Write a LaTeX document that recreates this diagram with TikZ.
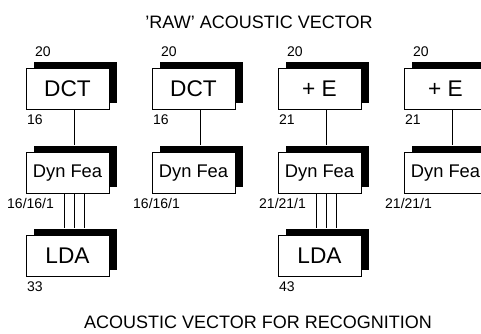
\documentclass[tikz,border=0pt]{standalone}
\usepackage{fontspec}
\setmainfont{Liberation Sans}
\usetikzlibrary{positioning, shadows}

\begin{document}
\begin{tikzpicture}[
  x=0.75pt, y=-0.75pt,
  node distance=31.5pt and 31.5pt,
  stage/.style={draw=black, fill=white, line width=0.75pt,
                minimum width=62.25pt, minimum height=30.75pt, inner sep=0pt,
                drop shadow={shadow xshift=6pt, shadow yshift=5.25pt,
                             fill=black, opacity=1}},
  big/.style={font=\fontsize{17}{19}\selectfont},
  mid/.style={font=\fontsize{13.75}{16}\selectfont},
  dimlbl/.style={font=\fontsize{10.5}{12}\selectfont, inner sep=1pt},
  headline/.style={font=\fontsize{13.5}{16}\selectfont},
  link/.style={line width=0.75pt}
]
\useasboundingbox (0,0) rectangle (481,333);

% Titles
\node[headline] (raw) at (259,22) {'RAW' ACOUSTIC VECTOR};
\node[headline] (rec) at (258,322) {ACOUSTIC VECTOR FOR RECOGNITION};

% Row 1 -- static features
\node[stage, big] (dct1) at (67.5,89) {DCT};
\node[stage, big, right=of dct1] (dct2) {DCT};
\node[stage, big, right=of dct2] (ene3) {+ E};
\node[stage, big, right=of ene3] (ene4) {+ E};

% Row 2 -- dynamic features
\node[stage, mid, below=of dct1] (dyn1) {Dyn Fea};
\node[stage, mid, below=of dct2] (dyn2) {Dyn Fea};
\node[stage, mid, below=of ene3] (dyn3) {Dyn Fea};
\node[stage, mid, below=of ene4] (dyn4) {Dyn Fea};

% Row 3 -- LDA
\node[stage, big, below=30.75pt of dyn1] (lda1) {LDA};
\node[stage, big, below=30.75pt of dyn3] (lda3) {LDA};

% Connections
\foreach \a/\b in {dct1/dyn1, dct2/dyn2, ene3/dyn3, ene4/dyn4}
  \draw[link] ([xshift=4.875pt]\a.south) -- ([xshift=4.875pt, yshift=5.25pt]\b.north);
\foreach \a/\b in {dyn1/lda1, dyn3/lda3}
  \foreach \dx in {-2.625pt, 4.875pt, 12.75pt}
    \draw[link] ([xshift=\dx]\a.south) -- ([xshift=\dx, yshift=5.25pt]\b.north);

% Dimensions
\foreach \n/\i/\o in {dct1/20/16, dct2/20/16, ene3/20/21, ene4/20/21} {
  \node[dimlbl, anchor=south west] at ([xshift=6pt, yshift=7pt]\n.north west) {\i};
  \node[dimlbl, anchor=north west] at ([yshift=-2.5pt]\n.south west) {\o};
}
\foreach \n/\d in {dyn1/{16/16/1}, dyn2/{16/16/1}, dyn3/{21/21/1}, dyn4/{21/21/1}}
  \node[dimlbl, anchor=north east] at ([xshift=22.5pt, yshift=-2pt]\n.south west) {\d};
\node[dimlbl, anchor=north west] at ([yshift=-2.5pt]lda1.south west) {33};
\node[dimlbl, anchor=north west] at ([yshift=-2.5pt]lda3.south west) {43};

\end{tikzpicture}
\end{document}
